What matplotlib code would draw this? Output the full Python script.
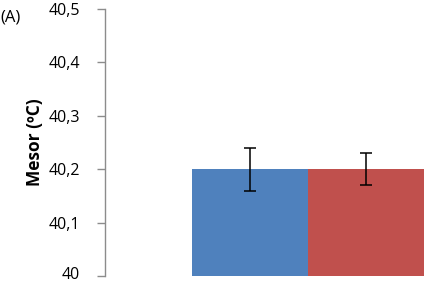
import matplotlib
matplotlib.use("Agg")
import matplotlib.pyplot as plt
import matplotlib.transforms as mtransforms
from matplotlib.ticker import FixedLocator

groups = ["Grupo 1", "Grupo 2"]
mesor = [40.2, 40.2]
mesor_err = [0.04, 0.03]
bar_colors = ["#4F81BD", "#C0504D"]
ytick_vals = [40.0, 40.1, 40.2, 40.3, 40.4, 40.5]
ytick_labels = ["40", "40,1", "40,2", "40,3", "40,4", "40,5"]

plt.rcParams["font.family"] = ["Open Sans", "DejaVu Sans"]

fig = plt.figure(figsize=(4.26, 2.84), dpi=100)
W, H = 426, 284
ax = fig.add_axes([105 / W, 1 - 276 / H, (426 - 105) / W, (276 - 9) / H])

x = range(len(groups))
ax.bar(x, [m - 40.0 for m in mesor], bottom=40.0, width=1.0, color=bar_colors,
       yerr=mesor_err, capsize=4, error_kw=dict(elinewidth=1.1, capthick=1.1, ecolor="black"))

ax.set_xlim(-1.25, 1.517)
ax.set_ylim(40.0, 40.5)
ax.yaxis.set_major_locator(FixedLocator(ytick_vals))
ax.set_yticklabels(ytick_labels, fontsize=11.5, fontweight="medium")
ax.set_xticks([])

for s in ["top", "right", "bottom"]:
    ax.spines[s].set_visible(False)
ax.spines["left"].set_color("#8c8c8c")
ax.spines["left"].set_linewidth(1.0)
ax.tick_params(axis="y", direction="out", length=6, width=1.0, color="#8c8c8c", pad=12)

# keep the lowest label inside the canvas
lbl = ax.get_yticklabels()[0]
lbl.set_transform(lbl.get_transform() + mtransforms.ScaledTranslation(0, 2 / 72, fig.dpi_scale_trans))

ax.set_ylabel("Mesor (ºC)", fontsize=12.5, fontweight="bold")
ax.yaxis.set_label_coords(-(105 - 35) / 321, 0.5)
ax.yaxis.label.set_va("center")

fig.text(0, 1 - 17 / H, "(A)", fontsize=12, va="center", ha="left")

fig.savefig("out.png", dpi=100)
